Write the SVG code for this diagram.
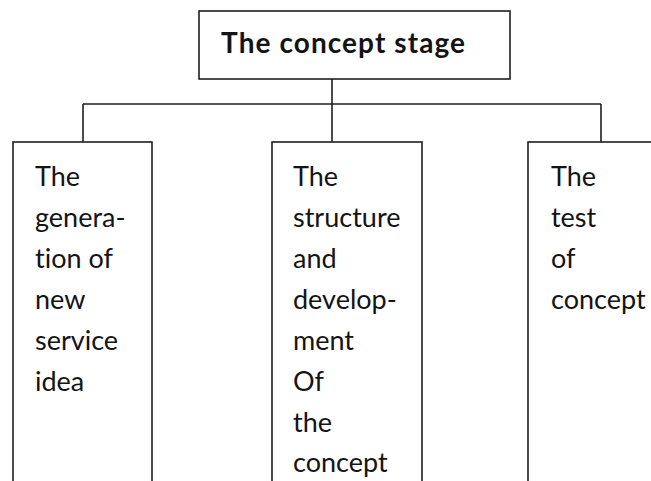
<svg xmlns="http://www.w3.org/2000/svg" width="651" height="481" viewBox="0 0 651 481">
<style>
.box{fill:#fff;stroke:#1e1e1e;stroke-width:1.6}
.conn{fill:none;stroke:#1e1e1e;stroke-width:1.6}
.t{font-family:Lato,"Open Sans",sans-serif;font-size:27px;fill:#141414;font-variant-ligatures:none;font-feature-settings:"liga" 0,"clig" 0}
.title{font-family:Lato,"Open Sans",sans-serif;font-size:28px;font-weight:bold;fill:#141414;font-variant-ligatures:none}
</style>
<rect width="651" height="481" fill="#fff"/>
<g id="connectors">
<path class="conn" d="M332 79V104M83 104H601M83 104V142M332 104V142M601 104V142"/>
</g>
<g id="node-concept-stage">
<rect class="box" x="199" y="11" width="311" height="68"/>
<text class="title" x="221" y="53" textLength="244" lengthAdjust="spacing">The concept stage</text>
</g>
<g id="node-generation">
<rect class="box" x="13" y="142" width="139" height="350"/>
<text class="t"><tspan x="35" y="186">The</tspan><tspan x="35" y="227">genera-</tspan><tspan x="35" y="268">tion of</tspan><tspan x="35" y="309">new</tspan><tspan x="35" y="350">service</tspan><tspan x="35" y="391">idea</tspan></text>
</g>
<g id="node-structure">
<rect class="box" x="272" y="142" width="150" height="350"/>
<text class="t"><tspan x="293" y="186">The</tspan><tspan x="293" y="227">structure</tspan><tspan x="293" y="268">and</tspan><tspan x="293" y="309">develop-</tspan><tspan x="293" y="350">ment</tspan><tspan x="293" y="391">Of</tspan><tspan x="293" y="432">the</tspan><tspan x="293" y="472">concept</tspan></text>
</g>
<g id="node-test">
<rect class="box" x="528" y="142" width="140" height="350"/>
<text class="t"><tspan x="551" y="186">The</tspan><tspan x="551" y="227">test</tspan><tspan x="551" y="268">of</tspan><tspan x="551" y="309">concept</tspan></text>
</g>
</svg>
